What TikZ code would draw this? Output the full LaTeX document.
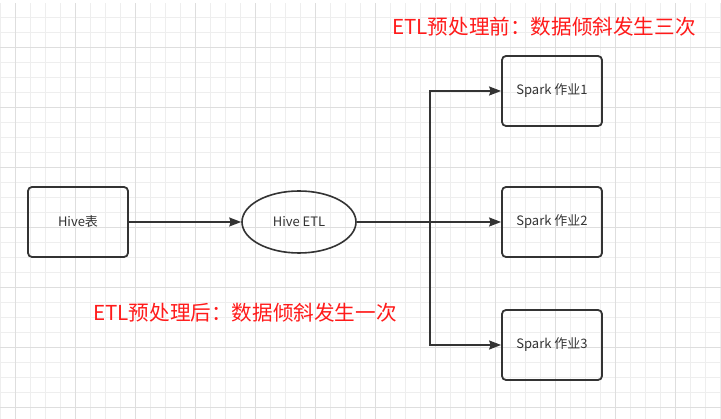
\documentclass[tikz,border=0pt]{standalone}
\usepackage{fontspec}
\setmainfont{Noto Sans CJK SC}
\usetikzlibrary{arrows.meta,shapes.geometric}
\definecolor{gminor}{HTML}{EEEEEE}
\definecolor{gmajor}{HTML}{DEDEDE}
\definecolor{ink}{HTML}{333333}
\definecolor{redtxt}{HTML}{FF1A1A}
\begin{document}
\begin{tikzpicture}[x=1pt,y=-1pt,
  box/.style={draw=ink,line width=1.8pt,rounded corners=4pt,minimum width=100pt,minimum height=70pt,inner sep=0pt,font=\fontsize{13}{15}\selectfont,text=ink},
  oval/.style={ellipse,draw=ink,line width=1.6pt,minimum width=114pt,minimum height=62pt,inner sep=0pt,font=\fontsize{13}{15}\selectfont,text=ink},
  conn/.style={draw=ink,line width=1.6pt},
  arr/.style={conn,-{Stealth[length=12pt,width=9pt,inset=1.5pt]}},
  note/.style={anchor=west,inner sep=0pt,text=redtxt,font=\fontsize{20.6}{24}\selectfont}]
\useasboundingbox (0,0) rectangle (721,419);
\fill[white] (0,0) rectangle (721,419);
\begin{scope}
\clip (0,4) rectangle (721,419);
\foreach \x in {0,15,...,720} \draw[gminor,line width=0.8pt] (\x,0) -- (\x,419);
\foreach \y in {2,17,...,419} \draw[gminor,line width=0.8pt] (0,\y) -- (721,\y);
\foreach \x in {15,75,...,720} \draw[gmajor,line width=0.8pt] (\x,0) -- (\x,419);
\foreach \y in {47,107,...,419} \draw[gmajor,line width=0.8pt] (0,\y) -- (721,\y);
\end{scope}
\node[box] (hive) at (78,222) {Hive表};
\node[oval] (etl) at (299,222) {Hive ETL};
\node[box] (s1) at (552,91) {Spark 作业1};
\node[box] (s2) at (552,222) {Spark 作业2};
\node[box] (s3) at (552,345) {Spark 作业3};
\coordinate (split) at (430,222);
\draw[arr] (hive) -- (etl);
\draw[arr] (etl) -- (s2);
\draw[arr] (split) |- (s1);
\draw[arr] (split) |- (s3);
\node[note] (pre) at (392,27) {ETL预处理前：数据倾斜发生三次};
\node[note] (post) at (93,313) {ETL预处理后：数据倾斜发生一次};
\end{tikzpicture}
\end{document}
